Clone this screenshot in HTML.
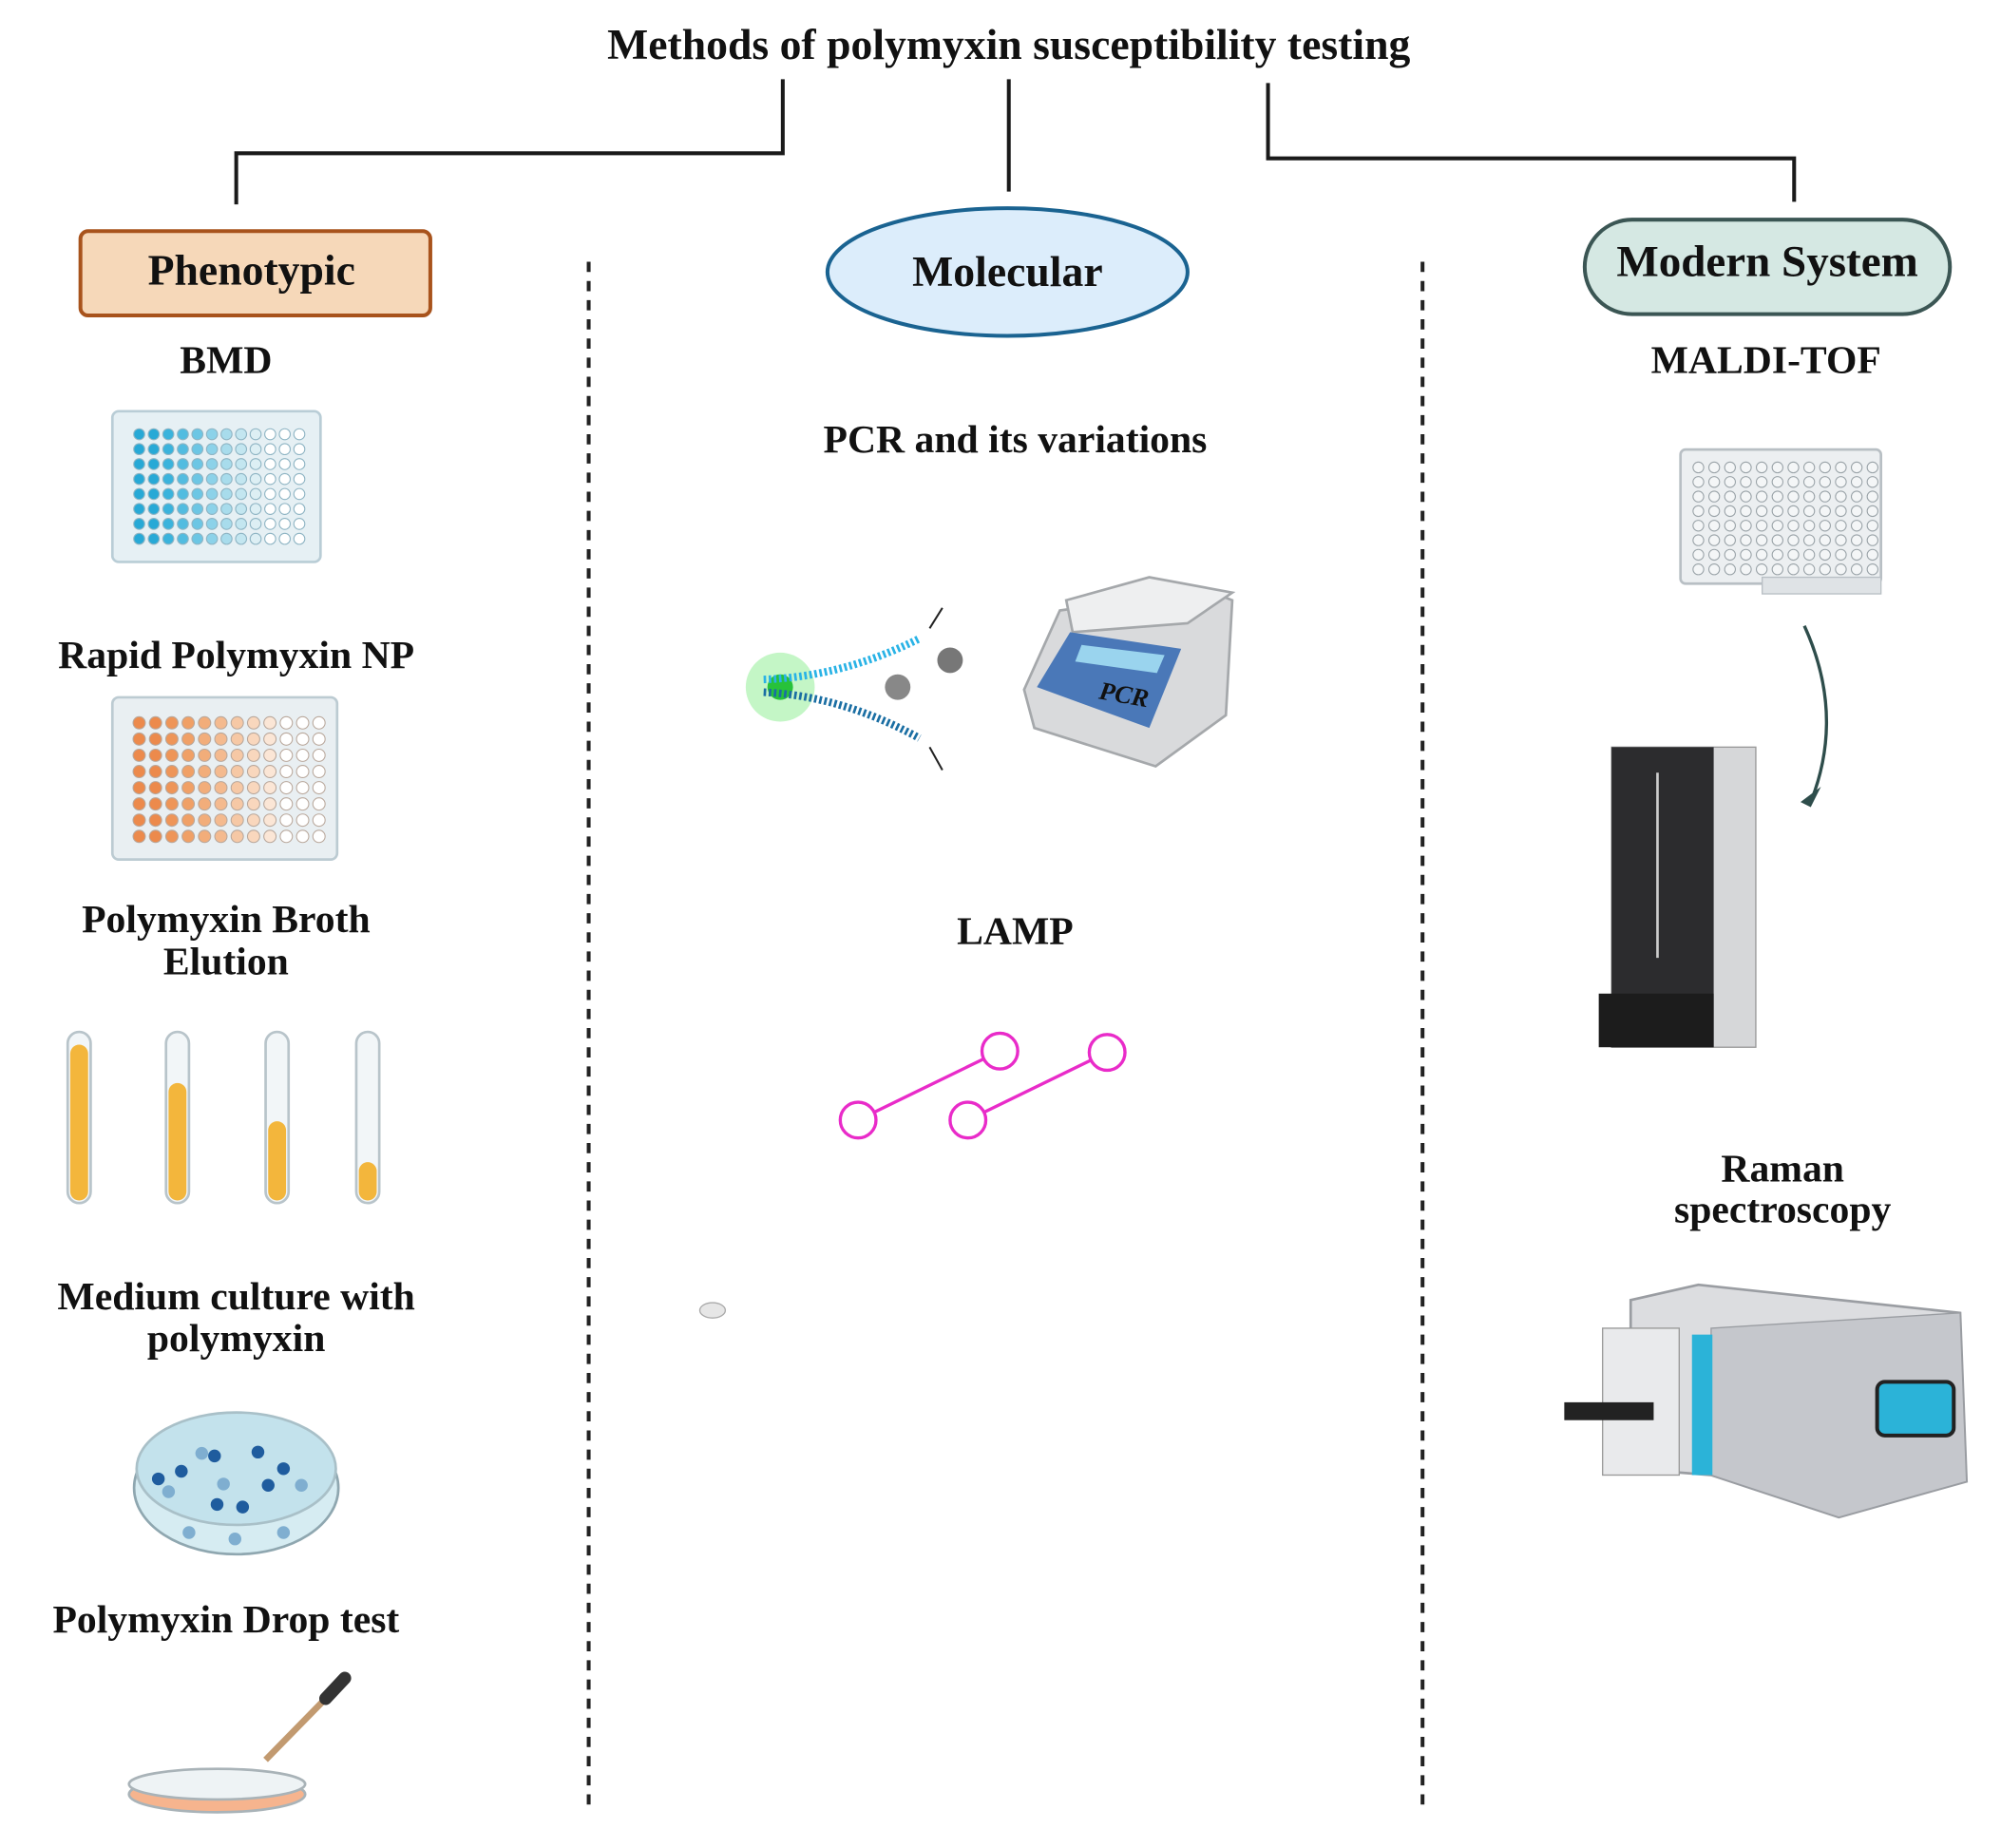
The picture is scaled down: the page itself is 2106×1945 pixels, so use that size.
<!DOCTYPE html>
<html><head><meta charset="utf-8"><style>
html,body{margin:0;padding:0;background:#fff}
svg{display:block}
text{font-family:"Liberation Serif",serif;font-weight:bold;fill:#111}
</style></head><body>
<svg id="s" width="2106" height="1945" viewBox="0 0 1567 1447" preserveAspectRatio="none" xmlns="http://www.w3.org/2000/svg">
<rect width="1567" height="1447" fill="#fff"/>
<text x="790" y="46" font-size="34" text-anchor="middle">Methods of polymyxin susceptibility testing</text>
<g stroke="#1a1a1a" stroke-width="3" fill="none">
<polyline points="613,62 613,120 185,120 185,160"/>
<line x1="790" y1="62" x2="790" y2="150"/>
<polyline points="993,65 993,124 1405,124 1405,158"/>
</g>
<g stroke="#222" stroke-width="3" stroke-dasharray="8,7">
<line x1="461" y1="205" x2="461" y2="1420"/>
<line x1="1114" y1="205" x2="1114" y2="1420"/>
</g>
<rect x="63" y="181" width="274" height="66" rx="6" fill="#f6d8b9" stroke="#a8531c" stroke-width="3"/>
<text x="197" y="223" font-size="34" text-anchor="middle">Phenotypic</text>
<ellipse cx="789" cy="213" rx="141" ry="50" fill="#dcedfb" stroke="#1a6391" stroke-width="3"/>
<text x="789" y="224" font-size="34" text-anchor="middle">Molecular</text>
<rect x="1241" y="172" width="286" height="74" rx="37" fill="#d5e8e3" stroke="#3b5654" stroke-width="3"/>
<text x="1384" y="216" font-size="35" text-anchor="middle">Modern System</text>
<g font-size="31" text-anchor="middle">
<text x="177" y="292">BMD</text>
<text x="185" y="523">Rapid Polymyxin NP</text>
<text x="177" y="730">Polymyxin Broth</text>
<text x="177" y="763">Elution</text>
<text x="185" y="1025">Medium culture with</text>
<text x="185" y="1058">polymyxin</text>
<text x="177" y="1278">Polymyxin Drop test</text>
<text x="795" y="354">PCR and its variations</text>
<text x="795" y="739">LAMP</text>
<text x="1383" y="292">MALDI-TOF</text>
<text x="1396" y="925">Raman</text>
<text x="1396" y="957">spectroscopy</text>
</g>
<rect x="88" y="322" width="163" height="118" rx="5" fill="#e6f0f4" stroke="#b9cdd6" stroke-width="2"/>
<g id="p1"></g>
<rect x="88" y="546" width="176" height="127" rx="5" fill="#e9eff2" stroke="#bccbd2" stroke-width="2"/>
<g id="p2"></g>
<rect x="1316" y="352" width="157" height="105" rx="4" fill="#eceff1" stroke="#b8bfc4" stroke-width="2"/>
<rect x="1380" y="452" width="93" height="13" fill="#dfe3e6" stroke="#b8bfc4"/>
<g id="p3"></g>
<g stroke="#b8c4ca" stroke-width="2">
<rect x="53" y="808" width="18" height="134" rx="9" fill="#f2f6f8"/>
<rect x="130" y="808" width="18" height="134" rx="9" fill="#f2f6f8"/>
<rect x="208" y="808" width="18" height="134" rx="9" fill="#f2f6f8"/>
<rect x="279" y="808" width="18" height="134" rx="9" fill="#f2f6f8"/>
</g>
<g fill="#f3b63c">
<rect x="55" y="818" width="14" height="122" rx="7"/>
<rect x="132" y="848" width="14" height="92" rx="7"/>
<rect x="210" y="878" width="14" height="62" rx="7"/>
<rect x="281" y="910" width="14" height="30" rx="7"/>
</g>
<ellipse cx="185" cy="1165" rx="80" ry="52" fill="#d6ecf2" stroke="#8fa7b0" stroke-width="2"/>
<ellipse cx="185" cy="1150" rx="78" ry="44" fill="#c3e2ec" stroke="#a9c0c8" stroke-width="2"/>
<g fill="#1f5c9e">
<circle cx="142" cy="1152" r="5"/><circle cx="168" cy="1140" r="5"/><circle cx="202" cy="1137" r="5"/><circle cx="210" cy="1163" r="5"/><circle cx="190" cy="1180" r="5"/><circle cx="170" cy="1178" r="5"/><circle cx="124" cy="1158" r="5"/><circle cx="222" cy="1150" r="5"/>
</g>
<g fill="#7faed0"><circle cx="158" cy="1138" r="5"/><circle cx="175" cy="1162" r="5"/><circle cx="132" cy="1168" r="5"/><circle cx="236" cy="1163" r="5"/><circle cx="148" cy="1200" r="5"/><circle cx="184" cy="1205" r="5"/><circle cx="222" cy="1200" r="5"/></g>
<ellipse cx="170" cy="1405" rx="69" ry="14" fill="#f6b48e" stroke="#a9b3b8" stroke-width="2"/>
<ellipse cx="170" cy="1397" rx="69" ry="12" fill="#eef3f5" stroke="#a9b3b8" stroke-width="2"/>
<line x1="208" y1="1378" x2="255" y2="1330" stroke="#c29a70" stroke-width="5"/>
<line x1="255" y1="1330" x2="270" y2="1314" stroke="#333" stroke-width="10" stroke-linecap="round"/>
<circle cx="611" cy="538" r="27" fill="#9cf0a0" opacity="0.6"/>
<circle cx="611" cy="538" r="10" fill="#27c23a"/>
<path d="M598 532 Q660 530 720 500" stroke="#29b3e6" stroke-width="6" fill="none" stroke-dasharray="2,2"/>
<path d="M598 542 Q660 545 720 578" stroke="#1a6ea3" stroke-width="6" fill="none" stroke-dasharray="2,2"/>
<circle cx="744" cy="517" r="10" fill="#777"/><circle cx="703" cy="538" r="10" fill="#888"/>
<line x1="728" y1="492" x2="738" y2="476" stroke="#222" stroke-width="1.5"/>
<line x1="728" y1="585" x2="738" y2="603" stroke="#222" stroke-width="1.5"/>
<path d="M802 540 L830 478 L945 462 L965 470 L960 560 L905 600 L810 570 Z" fill="#d9dadc" stroke="#a5a8ab" stroke-width="2"/>
<path d="M835 470 L900 452 L965 464 L930 488 L840 495 Z" fill="#eeeff0" stroke="#a5a8ab" stroke-width="2"/>
<path d="M812 538 L838 495 L925 508 L900 570 Z" fill="#4a78b8"/>
<path d="M847 505 L912 513 L906 527 L842 518 Z" fill="#9ad4ee"/>
<text x="860" y="547" font-size="20" fill="#2c4f86" font-style="italic" font-weight="normal" transform="rotate(10 860 547)">PCR</text>
<g stroke="#e92bc9" stroke-width="2.5" fill="#fff">
<line x1="672" y1="877" x2="783" y2="823"/><line x1="758" y1="877" x2="867" y2="824"/>
<circle cx="672" cy="877" r="14"/><circle cx="783" cy="823" r="14"/>
<circle cx="758" cy="877" r="14"/><circle cx="867" cy="824" r="14"/>
</g>
<ellipse cx="558" cy="1026" rx="10" ry="6" fill="#e6e6e6" stroke="#aaa"/>
<path d="M1413 490 Q1445 560 1418 628" stroke="#2e4d4b" stroke-width="2.5" fill="none"/>
<polygon points="1410,628 1426,616 1418,632" fill="#2e4d4b"/>
<rect x="1262" y="585" width="113" height="235" fill="#d6d7d9" stroke="#999"/>
<rect x="1262" y="585" width="80" height="235" fill="#2c2c2e"/>
<line x1="1298" y1="605" x2="1298" y2="750" stroke="#ccc" stroke-width="2"/>
<rect x="1252" y="778" width="90" height="42" fill="#1c1c1c"/>
<path d="M1277 1018 L1330 1006 L1535 1028 L1540 1160 L1440 1188 L1340 1155 L1277 1150 Z" fill="#dcdde0" stroke="#9a9da2" stroke-width="2"/>
<path d="M1340 1040 L1535 1028 L1540 1160 L1440 1188 L1340 1155 Z" fill="#c5c7cc" stroke="#9a9da2"/>
<rect x="1325" y="1045" width="16" height="110" fill="#2bb3d8"/>
<rect x="1255" y="1040" width="60" height="115" fill="#e9eaec" stroke="#999"/>
<rect x="1225" y="1098" width="70" height="14" fill="#222"/>
<rect x="1470" y="1082" width="60" height="42" rx="6" fill="#2bb3d8" stroke="#222" stroke-width="3"/>
</svg>
<script>
(function(){
var NS="http://www.w3.org/2000/svg";
function grid(id,x0,y0,dx,dy,r,cols,rows,fn){var g=document.getElementById(id);if(!g)return;for(var j=0;j<rows;j++)for(var i=0;i<cols;i++){var c=fn(i,j);var e=document.createElementNS(NS,"circle");e.setAttribute("cx",x0+i*dx);e.setAttribute("cy",y0+j*dy);e.setAttribute("r",r);e.setAttribute("fill",c[0]);e.setAttribute("stroke",c[1]);e.setAttribute("stroke-width","0.8");g.appendChild(e);}}
var a1=['#27a9d6','#27a9d6','#3ab3dc','#52bce0','#6cc6e4','#8cd2e9','#a8dcec','#c3e6f0','#ddeff4','#fff','#fff','#fff'];
var a2=['#ec8a4c','#ec8a4c','#ee9558','#f0a066','#f2ad7a','#f4ba8f','#f6c8a5','#f9d7bd','#fbe6d6','#fff','#fff','#fff'];
grid('p1',109,340,11.4,11.7,4.3,12,8,function(i){return [a1[i],'#8fb5c4'];});
grid('p2',109,566,12.8,12.7,4.8,12,8,function(i){return [a2[i],'#b9a89c'];});
grid('p3',1330,366,12.4,11.4,4.2,12,8,function(){return ['#f4f6f7','#9aa3a8'];});
})();
</script>
</body></html>
